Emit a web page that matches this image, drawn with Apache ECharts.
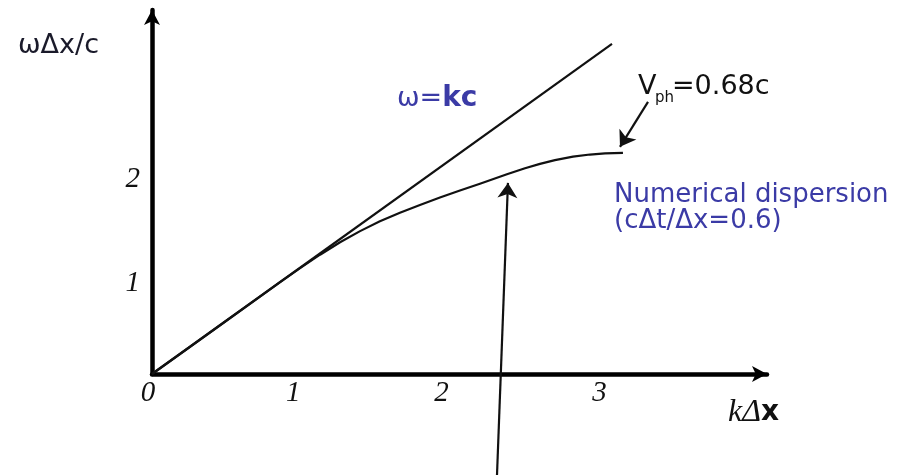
<!DOCTYPE html>
<html>
<head>
<meta charset="utf-8">
<script src="https://cdn.jsdelivr.net/npm/echarts@6/dist/echarts.min.js"></script>
<style>
  html, body { margin: 0; padding: 0; background: #fff; }
  #chart { width: 904px; height: 475px; }
</style>
</head>
<body>
<div id="chart"></div>
<script>
// Tick labels shown on each axis
const xTickLabels = ['0', '1', '2', '3'];
const yTickLabels = ['1', '2'];

// Light line: omega = k c (in the plotted units)
const lightLine = [[0, 0], [3.104, 3.402]];

// Numerical dispersion curve (c dt / dx = 0.6)
const dispersionK = [0, 0.250, 0.499, 0.749, 0.864, 0.999, 1.134, 1.269, 1.404, 1.538, 1.673, 1.808,
                     1.943, 2.078, 2.213, 2.395, 2.517, 2.618, 2.719, 2.841, 2.955, 3.057, 3.178];
const dispersionW = [0, 0.273, 0.546, 0.821, 0.947, 1.091, 1.229, 1.357, 1.472, 1.573, 1.662, 1.742,
                     1.818, 1.890, 1.960, 2.057, 2.119, 2.165, 2.203, 2.239, 2.261, 2.272, 2.278];

// Annotation arrows: [start, tip]
const arrowToCurve = [[2.328, -1.041], [2.402, 1.969]];
const arrowToPhase = [[3.347, 2.804], [3.158, 2.340]];

const blue = '#3b3ba6';
const sans = '"DejaVu Sans", sans-serif';
const serif = '"Liberation Serif", "DejaVu Serif", serif';

const tickStyle = { fontFamily: serif, fontStyle: 'italic', fontSize: 29, color: '#111' };

const chart = echarts.init(document.getElementById('chart'), null, { renderer: 'canvas' });

chart.setOption({
  animation: false,
  backgroundColor: '#ffffff',
  grid: { left: 152, top: 10, right: 137, bottom: 101, containLabel: false },
  xAxis: {
    type: 'value', min: 0, max: 4.15, interval: 1,
    axisLine: { show: true, symbol: ['none', 'arrow'], symbolSize: [12, 15], lineStyle: { color: '#000', width: 4.5 } },
    axisTick: { show: false },
    splitLine: { show: false },
    axisLabel: {
      margin: 5,
      showMaxLabel: false,
      ...tickStyle,
      rich: {
        z: { ...tickStyle, padding: [0, 8, 0, 0] },
        t: { ...tickStyle, padding: [0, 14, 0, 0] },
        r: { ...tickStyle, padding: [0, 0, 0, 6] }
      },
      formatter: v => {
        const i = Math.round(v);
        if (i >= xTickLabels.length) return '';
        const key = i === 0 ? 'z' : (i < 3 ? 't' : 'r');
        return '{' + key + '|' + xTickLabels[i] + '}';
      }
    }
  },
  yAxis: {
    type: 'value', min: 0, max: 3.75, interval: 1,
    axisLine: { show: true, symbol: ['none', 'arrow'], symbolSize: [12, 15], lineStyle: { color: '#000', width: 4.5 } },
    axisTick: { show: false },
    splitLine: { show: false },
    axisLabel: {
      margin: 12,
      ...tickStyle,
      rich: {
        lo: { ...tickStyle, padding: [12, 0, 0, 0] },
        n: { ...tickStyle }
      },
      formatter: v => {
        const i = Math.round(v);
        if (i < 1 || i > yTickLabels.length) return '';
        return (i === 1 ? '{lo|' : '{n|') + yTickLabels[i - 1] + '}';
      }
    }
  },
  series: [
    {
      name: 'ω=kc', type: 'line', data: lightLine, symbol: 'none',
      lineStyle: { color: '#111', width: 2.2 }, clip: false
    },
    {
      name: 'Numerical dispersion', type: 'line', smooth: false, symbol: 'none',
      data: dispersionK.map((k, i) => [k, dispersionW[i]]),
      lineStyle: { color: '#111', width: 2.2, join: 'round' }, clip: false
    },
    {
      type: 'lines', coordinateSystem: 'cartesian2d', clip: false,
      symbol: ['none', 'arrow'], symbolSize: [0, 15],
      lineStyle: { color: '#111', width: 2.2, opacity: 1 },
      data: [ { coords: arrowToCurve }, { coords: arrowToPhase } ]
    }
  ],
  graphic: [
    {
      type: 'text', left: 18, top: 32,
      style: { text: 'ωΔx/c', font: '27px ' + sans, fill: '#1a1a2a' }
    },
    {
      type: 'text', left: 397, top: 85,
      style: {
        text: '{a|ω=}{b|kc}',
        rich: {
          a: { fontFamily: sans, fontSize: 27, fill: blue, color: blue },
          b: { fontFamily: sans, fontSize: 28, fontWeight: 'bold', fill: blue, color: blue }
        }
      }
    },
    {
      type: 'text', left: 638, top: 73,
      style: { text: 'V', font: '27px ' + sans, fill: '#111' }
    },
    {
      type: 'text', left: 655, top: 91,
      style: { text: 'ph', font: '15px ' + sans, fill: '#111' }
    },
    {
      type: 'text', left: 672, top: 73,
      style: { text: '=0.68c', font: '27px ' + sans, fill: '#111' }
    },
    {
      type: 'text', left: 614, top: 182,
      style: { text: 'Numerical dispersion', font: '26px ' + sans, fill: blue }
    },
    {
      type: 'text', left: 614, top: 208,
      style: { text: '(cΔt/Δx=0.6)', font: '26px ' + sans, fill: blue }
    },
    {
      type: 'text', left: 728, top: 397,
      style: {
        text: '{k|kΔ}{x|x}',
        rich: {
          k: { fontFamily: serif, fontStyle: 'italic', fontSize: 32, fill: '#111', color: '#111' },
          x: { fontFamily: sans, fontWeight: 'bold', fontSize: 28, fill: '#111', color: '#111' }
        }
      }
    }
  ]
});
</script>
</body>
</html>
